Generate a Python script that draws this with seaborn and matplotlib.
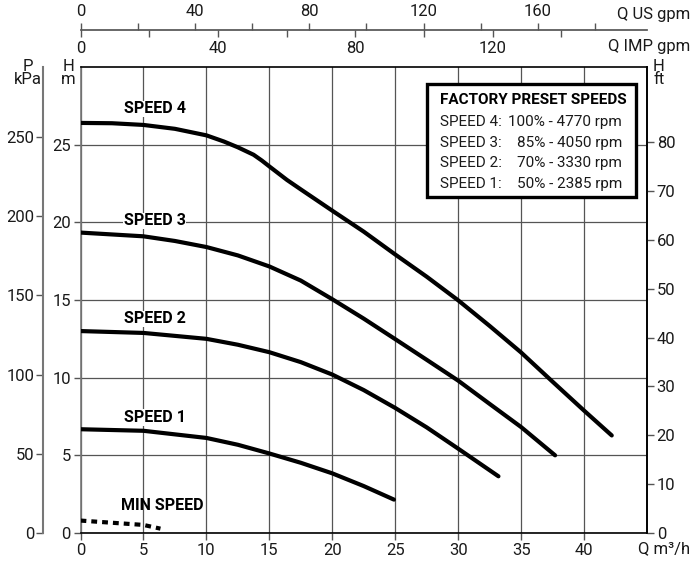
import numpy as np
import seaborn as sns
import matplotlib.pyplot as plt
from matplotlib.patches import Rectangle
from matplotlib.ticker import FixedLocator

# pump curves: Q in m3/h, H in m
q_speed4 = [0, 2.5, 5, 7.5, 10, 11.4, 12.5, 13.75, 14.4, 15, 16.4, 17.5, 20, 22.5, 25,
            27.5, 30, 32.5, 35, 37.5, 40, 42.2]
h_speed4 = [26.4, 26.38, 26.27, 26.02, 25.6, 25.2, 24.83, 24.35, 23.98, 23.6, 22.73, 22.12,
            20.75, 19.4, 17.93, 16.5, 14.98, 13.33, 11.62, 9.74, 7.88, 6.28]
q_speed3 = [0, 5, 7.5, 10, 12.5, 15, 17.5, 20, 22.5, 25, 27.5, 30, 32.5, 35, 37.7]
h_speed3 = [19.34, 19.1, 18.8, 18.41, 17.87, 17.16, 16.25, 15.05, 13.8, 12.48, 11.15, 9.81,
            8.31, 6.82, 5.0]
q_speed2 = [0, 5, 10, 12.5, 15, 17.5, 20, 22.5, 25, 27.5, 30, 33.2]
h_speed2 = [13.0, 12.88, 12.5, 12.12, 11.64, 11.0, 10.2, 9.2, 8.05, 6.8, 5.43, 3.65]
q_speed1 = [0, 5, 10, 12.5, 15, 17.5, 20, 22.5, 24.9]
h_speed1 = [6.68, 6.58, 6.12, 5.68, 5.12, 4.52, 3.84, 3.02, 2.15]
q_min = [0, 5, 6.35]
h_min = [0.8, 0.52, 0.28]

speed_names = ['SPEED 4', 'SPEED 3', 'SPEED 2', 'SPEED 1']
label_h = [27.3, 20.1, 13.8, 7.43]
preset_pct = ['100% - 4770 rpm', '85% - 4050 rpm', '70% - 3330 rpm', '50% - 2385 rpm']

Q_MAX = 45
H_MAX = 30
KPA_PER_M = 9.81
FT_PER_M = 3.18
USGPM_PER_M3H = 4.4029
IMPGPM_PER_M3H = 3.6662

sns.set_theme(style='white')
plt.rcParams['font.family'] = ['Roboto', 'DejaVu Sans']
TICK_FS = 12
BOX_FS = 11
INK = '#1a1a1a'

W, H = 693, 562
fig = plt.figure(figsize=(W / 100, H / 100), dpi=100)
left, right, top, bottom = 80.5, 647, 67, 533
ax = fig.add_axes([left / W, 1 - bottom / H, (right - left) / W, (bottom - top) / H])

curves = [(q_speed4, h_speed4), (q_speed3, h_speed3), (q_speed2, h_speed2), (q_speed1, h_speed1)]
for q, h in curves:
    sns.lineplot(x=q, y=h, ax=ax, color='black', lw=3.0, sort=False, zorder=4)
sns.lineplot(x=q_min, y=h_min, ax=ax, color='black', lw=3.0, sort=False, zorder=4,
             linestyle=(0, (1.4, 1.2)))

ax.set_xlim(0, Q_MAX)
ax.set_ylim(0, H_MAX)
ax.set_xticks(np.arange(0, 45, 5))
ax.set_yticks(np.arange(0, 30, 5))
ax.grid(True, color='#555555', lw=0.9, zorder=1)
ax.tick_params(axis='both', direction='out', length=5, width=1, color='#555555',
               left=True, bottom=True, pad=2, labelsize=TICK_FS, labelcolor=INK)
for s in ax.spines.values():
    s.set_color('black')
    s.set_linewidth(1.2)
ax.spines['left'].set_color('#777777')

for name, yh in zip(speed_names, label_h):
    ax.text(5.9, yh, name, ha='center', va='center', fontsize=11.5, fontweight='bold',
            color='black', zorder=5, bbox=dict(facecolor='white', edgecolor='none', pad=0.5))
ax.text(6.47, 1.75, 'MIN SPEED', ha='center', va='center', fontsize=11.5,
        fontweight='bold', color='black', zorder=5)

# preset box
ax.add_patch(Rectangle((0.6117, 0.721), 0.9806 - 0.6117, 0.9635 - 0.721,
                       transform=ax.transAxes, facecolor='white', edgecolor='black',
                       lw=2.4, zorder=6))
ax.text(0.634, 0.929, 'FACTORY PRESET SPEEDS', transform=ax.transAxes, ha='left',
        va='center', fontsize=BOX_FS, fontweight='bold', color='black', zorder=7)
for i, (name, pct) in enumerate(zip(speed_names, preset_pct)):
    yy = 0.882 - i * 0.0445
    ax.text(0.634, yy, name + ':', transform=ax.transAxes, ha='left', va='center',
            fontsize=BOX_FS, color=INK, zorder=7)
    ax.text(0.956, yy, pct, transform=ax.transAxes, ha='right', va='center',
            fontsize=BOX_FS, color=INK, zorder=7)

# kPa axis on the far left
ax_kpa = ax.twinx()
ax_kpa.set_ylim(0, H_MAX * KPA_PER_M)
ax_kpa.set_yticks(np.arange(0, 251, 50))
ax_kpa.yaxis.set_ticks_position('left')
ax_kpa.spines['left'].set_position(('outward', 27))
ax_kpa.spines['left'].set_color('#777777')
ax_kpa.spines['left'].set_linewidth(1.5)
for s in ['right', 'top', 'bottom']:
    ax_kpa.spines[s].set_visible(False)
ax_kpa.tick_params(axis='y', direction='out', length=5, width=1, color='#555555',
                   pad=1, labelsize=TICK_FS, labelcolor=INK)
ax_kpa.grid(False)

# ft axis on the right
ax_ft = ax.twinx()
ax_ft.set_ylim(0, H_MAX * FT_PER_M)
ax_ft.set_yticks(np.arange(0, 81, 10))
for s in ['left', 'top', 'bottom']:
    ax_ft.spines[s].set_visible(False)
ax_ft.spines['right'].set_color('black')
ax_ft.spines['right'].set_linewidth(1.2)
ax_ft.tick_params(axis='y', direction='out', length=5, width=1, color='#555555',
                  pad=2, labelsize=TICK_FS, labelcolor=INK)
ax_ft.grid(False)

# top flow scales: US gpm above the line, IMP gpm below
line_y = 1 - 30 / H
ax_us = fig.add_axes([left / W, line_y, (right - left) / W, 1e-6])
ax_imp = ax_us.twiny()

ax_us.set_xlim(0, Q_MAX * USGPM_PER_M3H)
ax_us.set_yticks([])
ax_us.set_xticks(np.arange(0, 161, 40))
ax_us.xaxis.set_minor_locator(FixedLocator(np.arange(20, 181, 40)))
ax_us.xaxis.set_ticks_position('top')
ax_us.tick_params(axis='x', which='both', direction='out', length=5, width=1,
                  color='#555555', pad=3, labelsize=TICK_FS, labelcolor=INK,
                  top=True, bottom=False, labeltop=True, labelbottom=False)
for s in ['left', 'right', 'bottom']:
    ax_us.spines[s].set_visible(False)
ax_us.spines['top'].set_color('#555555')
ax_us.patch.set_visible(False)

ax_imp.set_xlim(0, Q_MAX * IMPGPM_PER_M3H)
ax_imp.set_yticks([])
ax_imp.set_xticks(np.arange(0, 121, 40))
ax_imp.xaxis.set_minor_locator(FixedLocator(np.arange(20, 141, 40)))
ax_imp.xaxis.set_ticks_position('bottom')
ax_imp.tick_params(axis='x', which='both', direction='out', length=5, width=1,
                   color='#555555', pad=3, labelsize=TICK_FS, labelcolor=INK,
                   top=False, bottom=True, labeltop=False, labelbottom=True)
for s in ax_imp.spines.values():
    s.set_visible(False)
ax_imp.patch.set_visible(False)

# axis captions
fig.text(690 / W, 1 - 14 / H, 'Q US gpm', ha='right', va='center', fontsize=TICK_FS, color=INK)
fig.text(690 / W, 1 - 47 / H, 'Q IMP gpm', ha='right', va='center', fontsize=TICK_FS, color=INK)
fig.text(690 / W, 1 - 549 / H, 'Q m³/h', ha='right', va='center', fontsize=TICK_FS, color=INK)
fig.text(28 / W, 1 - 59 / H, 'P\nkPa', ha='center', va='top', fontsize=TICK_FS,
         linespacing=0.85, color=INK)
fig.text(68 / W, 1 - 59 / H, 'H\nm', ha='center', va='top', fontsize=TICK_FS,
         linespacing=0.85, color=INK)
fig.text(659 / W, 1 - 59 / H, 'H\nft', ha='center', va='top', fontsize=TICK_FS,
         linespacing=0.85, color=INK)

fig.savefig('out.png', dpi=100)
